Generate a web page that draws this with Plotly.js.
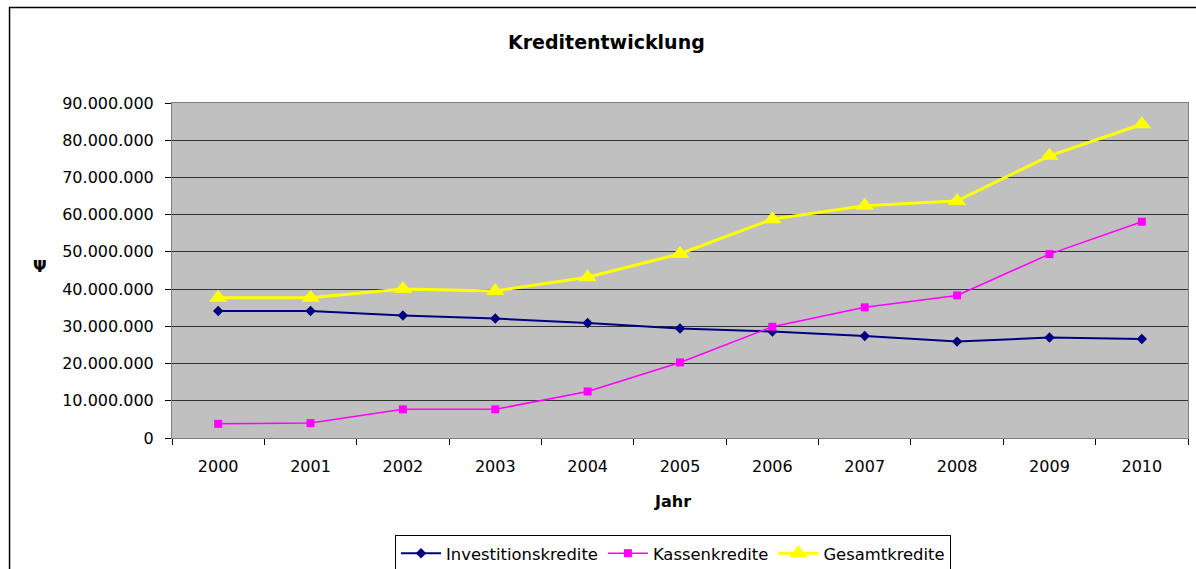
<!DOCTYPE html>
<html>
<head>
<meta charset="utf-8">
<script src="https://cdn.plot.ly/plotly-3.0.1.min.js"></script>
<style>html,body{margin:0;padding:0;background:#fff;}#chart{width:1196px;height:569px;}</style>
</head>
<body>
<div id="chart"></div>
<script>
const years = ['2000','2001','2002','2003','2004','2005','2006','2007','2008','2009','2010'];
const investitionskredite = [34100000, 34100000, 32900000, 32100000, 30900000, 29400000, 28600000, 27400000, 25900000, 27000000, 26600000];
const kassenkredite = [3800000, 4000000, 7700000, 7700000, 12500000, 20300000, 29900000, 35100000, 38300000, 49400000, 58100000];
const gesamtkredite = [37700000, 37700000, 40000000, 39500000, 43200000, 49500000, 58800000, 62400000, 63700000, 75800000, 84300000];
const seriesNames = ['Investitionskredite', 'Kassenkredite', 'Gesamtkredite'];
const chartTitle = 'Kreditentwicklung';
const xTitle = 'Jahr';
const yTitle = 'Ψ';

const FONT = 'DejaVu Sans';

const traces = [
  {x: years, y: investitionskredite, name: seriesNames[0], type: 'scatter', mode: 'lines+markers',
   line: {color: '#000080', width: 2}, marker: {symbol: 'diamond', size: 8, color: '#000080'}},
  {x: years, y: kassenkredite, name: seriesNames[1], type: 'scatter', mode: 'lines+markers',
   line: {color: '#FF00FF', width: 1.5}, marker: {symbol: 'square', size: 8, color: '#FF00FF'}},
  {x: years, y: gesamtkredite, name: seriesNames[2], type: 'scatter', mode: 'lines+markers',
   line: {color: '#FFFF00', width: 3}, marker: {symbol: 'triangle-up', size: 16, color: '#FFFF00'}}
];

const layout = {
  width: 1196, height: 569,
  margin: {l: 172, r: 8, t: 103, b: 131, pad: 0, autoexpand: false},
  paper_bgcolor: '#FFFFFF',
  plot_bgcolor: '#C0C0C0',
  separators: ',.',
  font: {family: FONT, size: 16, color: '#000'},
  title: {text: chartTitle, font: {family: FONT, size: 19, weight: 'bold', color: '#000'},
          x: 0.507, xref: 'container', xanchor: 'center', y: 0.926, yref: 'container', yanchor: 'middle'},
  xaxis: {type: 'category', range: [-0.5, 10.5], tickson: 'boundaries', ticks: 'outside', ticklen: 6,
          tickcolor: '#000', showline: true, linecolor: '#808080', linewidth: 1, mirror: true,
          showgrid: false, zeroline: false, tickfont: {family: FONT, size: 16, color: '#000'},
          ticklabelstandoff: 14, fixedrange: true, automargin: false},
  yaxis: {range: [0, 90000000], dtick: 10000000, tick0: 0, tickformat: ',d', ticks: 'outside', ticklen: 6,
          tickcolor: '#000', showline: true, linecolor: '#808080', linewidth: 1, mirror: true,
          showgrid: true, gridcolor: '#333333', gridwidth: 1, zeroline: false,
          tickfont: {family: FONT, size: 16, color: '#000'}, ticklabelstandoff: 8, fixedrange: true, automargin: false},
  showlegend: true,
  legend: {orientation: 'h', x: 0.2195, xanchor: 'left', y: -0.2896, yanchor: 'top',
           bordercolor: '#000', borderwidth: 1, bgcolor: '#FFFFFF', itemwidth: 40,
           font: {family: FONT, size: 16.4, color: '#000'}},
  annotations: [
    {text: yTitle, xref: 'paper', yref: 'paper', x: -0.1299, y: 0.513, xanchor: 'center', yanchor: 'middle',
     showarrow: false, font: {family: FONT, size: 16, weight: 'bold', color: '#000'}},
    {text: xTitle, xref: 'paper', yref: 'paper', x: 0.493, y: -0.191, xanchor: 'center', yanchor: 'middle',
     showarrow: false, font: {family: FONT, size: 16, weight: 'bold', color: '#000'}}
  ],
  shapes: [
    {type: 'rect', xref: 'paper', yref: 'paper', x0: -0.1599, x1: 1.05, y0: -0.6, y1: 1.2851,
     line: {color: '#000', width: 1.5}, fillcolor: 'rgba(0,0,0,0)', layer: 'below'}
  ]
};

Plotly.newPlot('chart', traces, layout, {displayModeBar: false, staticPlot: true});
</script>
</body>
</html>
